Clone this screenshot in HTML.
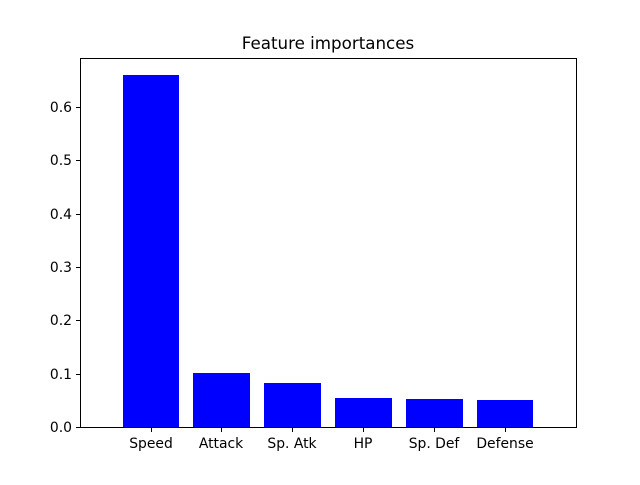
<!DOCTYPE html>
<html><head><meta charset="utf-8"><style>
body{margin:0;background:#fff}
svg text{font-family:"DejaVu Sans","Liberation Sans",sans-serif;font-size:13.9px;fill:#000}
</style></head><body>
<svg width="640" height="480" viewBox="0 0 640 480" xmlns="http://www.w3.org/2000/svg">
<rect width="640" height="480" fill="#fff"/>
<g fill="#0000ff">
<rect x="123" y="75" width="56" height="352"/>
<rect x="193" y="373" width="57" height="54"/>
<rect x="264" y="383" width="57" height="44"/>
<rect x="335" y="398" width="57" height="29"/>
<rect x="406" y="399" width="57" height="28"/>
<rect x="477" y="400" width="56" height="27"/>
</g>
<rect x="80.5" y="58.5" width="496" height="369" fill="none" stroke="#000" stroke-width="1"/>
<g stroke="#000" stroke-width="1">
<line x1="76" x2="80" y1="427.5" y2="427.5"/>
<line x1="76" x2="80" y1="374.5" y2="374.5"/>
<line x1="76" x2="80" y1="320.5" y2="320.5"/>
<line x1="76" x2="80" y1="267.5" y2="267.5"/>
<line x1="76" x2="80" y1="214.5" y2="214.5"/>
<line x1="76" x2="80" y1="160.5" y2="160.5"/>
<line x1="76" x2="80" y1="107.5" y2="107.5"/>
<line x1="151.5" x2="151.5" y1="428" y2="432"/>
<line x1="221.5" x2="221.5" y1="428" y2="432"/>
<line x1="292.5" x2="292.5" y1="428" y2="432"/>
<line x1="363.5" x2="363.5" y1="428" y2="432"/>
<line x1="434.5" x2="434.5" y1="428" y2="432"/>
<line x1="505.5" x2="505.5" y1="428" y2="432"/>
</g>
<g text-anchor="end">
<text x="72" y="432">0.0</text>
<text x="72" y="379">0.1</text>
<text x="72" y="325">0.2</text>
<text x="72" y="272">0.3</text>
<text x="72" y="219">0.4</text>
<text x="72" y="165">0.5</text>
<text x="72" y="112">0.6</text>
</g>
<g text-anchor="middle">
<text x="151" y="448">Speed</text>
<text x="221" y="448">Attack</text>
<text x="292" y="448">Sp. Atk</text>
<text x="363" y="448">HP</text>
<text x="434" y="448">Sp. Def</text>
<text x="505" y="448">Defense</text>
<text x="328" y="49" style="font-size:16.7px">Feature importances</text>
</g>
</svg>
</body></html>
